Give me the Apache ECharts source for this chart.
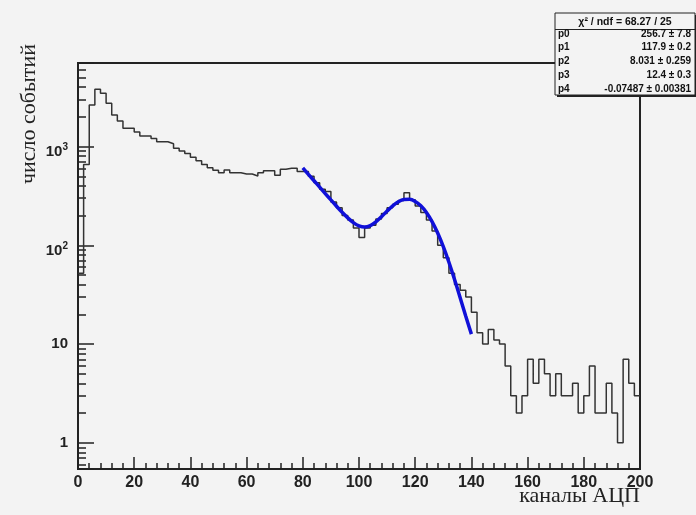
<!DOCTYPE html>
<html><head><meta charset="utf-8">
<script src="https://cdn.jsdelivr.net/npm/echarts@6/dist/echarts.min.js"></script>
<style>html,body{margin:0;padding:0;background:#f3f3f3}#c{width:696px;height:515px}</style>
</head><body><div id="c"></div>
<script>
// ---- data ----
const BIN_START = 0;
const BIN_WIDTH = 2;
const counts = [
  52, 660, 2640, 3800, 3470, 2750, 2090, 1820, 1530, 1530,
  1410, 1280, 1280, 1210, 1120, 1120, 1070, 960, 900, 850,
  780, 720, 660, 610, 575, 544, 580, 544, 544, 527,
  527, 503, 544, 570, 570, 513, 590, 605, 605, 560,
  560, 500, 430, 370, 350, 275, 240, 200, 180, 150,
  120, 150, 160, 185, 210, 240, 260, 285, 340, 290,
  250, 215, 180, 140, 100, 75, 52, 40, 35, 30,
  21, 13, 10, 14, 11, 10, 6, 3, 2, 3,
  7, 4, 7, 5, 3, 5, 3, 3, 4, 2,
  3, 6, 2, 2, 4, 2, 1, 7, 4, 3
];
const fitX = [80,82,84,86,88,90,92,94,96,98,100,102,104,106,108,110,112,114,116,118,120,122,124,126,128,130,132,134,136,138,140];
const fitY = [608.6,523.6,450.8,388.2,334.4,288.2,249.0,216.3,189.8,169.9,157.4,153.3,158.2,172.4,194.8,222.5,251.3,275.9,290.7,292.1,278.5,251.5,215.0,173.8,133.1,96.9,67.4,45.1,29.5,19.1,12.6];
const xMin = 0, xMax = 200, xStep = 20;
const yMin = 0.542, yMax = 7030;
const yLabels = {1: '1', 10: '10', 100: '{n|10}{s|2}', 1000: '{n|10}{s|3}'};
const xTitle = 'каналы АЦП';
const yTitle = 'число событий';
const statsHeader = 'χ² / ndf = 68.27 / 25';
const statsNames = ['p0', 'p1', 'p2', 'p3', 'p4'];
const statsValues = ['256.7 ± 7.8', '117.9 ± 0.2', '8.031 ± 0.259', '12.4 ± 0.3', '-0.07487 ± 0.00381'];

// ---- build ----
const histData = counts.map((v, i) => [BIN_START + i * BIN_WIDTH, v]);
histData.push([BIN_START + counts.length * BIN_WIDTH, counts[counts.length - 1]]);
const fitData = fitX.map((x, i) => [x, fitY[i]]);

const BG = '#f3f3f3';
const FR = '#222';
const labelFont = 'Liberation Sans, Arial, sans-serif';
const serif = 'Liberation Serif, Times New Roman, serif';

const stats = [];
const bx = 555, by = 13, bw = 140, bh = 82;
stats.push({type: 'rect', shape: {x: bx + 2, y: by + 2, width: bw, height: bh}, style: {fill: '#222'}});
stats.push({type: 'rect', shape: {x: bx, y: by, width: bw, height: bh}, style: {fill: BG, stroke: '#222', lineWidth: 1}});
stats.push({type: 'line', shape: {x1: bx, y1: by + 16.5, x2: bx + bw, y2: by + 16.5}, style: {stroke: '#222', lineWidth: 1}});
stats.push({type: 'text', x: bx + bw / 2, y: by + 9, style: {text: statsHeader, align: 'center', verticalAlign: 'middle', font: 'bold 10.5px ' + labelFont, fill: '#111'}});
statsNames.forEach((n, i) => {
  const yy = by + 21 + i * 13.7;
  stats.push({type: 'text', x: bx + 3, y: yy, style: {text: n, align: 'left', verticalAlign: 'middle', font: 'bold 10px ' + labelFont, fill: '#111'}});
  stats.push({type: 'text', x: bx + bw - 4, y: yy, style: {text: statsValues[i], align: 'right', verticalAlign: 'middle', font: 'bold 10px ' + labelFont, fill: '#111'}});
});

const chart = echarts.init(document.getElementById('c'), null, {renderer: 'canvas'});
chart.setOption({
  backgroundColor: BG,
  animation: false,
  grid: {left: 78, right: 56, top: 63, bottom: 46, show: true, borderColor: FR, borderWidth: 2, backgroundColor: BG, containLabel: false, outerBoundsMode: 'none'},
  xAxis: {
    type: 'value', min: xMin, max: xMax, interval: xStep,
    axisLine: {show: true, lineStyle: {color: FR, width: 2}},
    axisTick: {show: true, inside: true, length: 12, lineStyle: {color: FR, width: 1.5}},
    minorTick: {show: true, splitNumber: 5, length: 6, lineStyle: {color: FR, width: 1.5}},
    axisLabel: {show: true, margin: 6, color: '#222', fontFamily: labelFont, fontWeight: 'bold', fontSize: 16},
    splitLine: {show: false}
  },
  yAxis: {
    type: 'log', logBase: 10, min: yMin, max: yMax,
    axisLine: {show: true, lineStyle: {color: FR, width: 2}},
    axisTick: {show: true, inside: true, length: 16, lineStyle: {color: FR, width: 1.5}},
    minorTick: {show: true, splitNumber: 9, length: 8, lineStyle: {color: FR, width: 1.5}},
    axisLabel: {
      show: true, margin: 10, color: '#222', fontFamily: labelFont, fontWeight: 'bold', fontSize: 15,
      formatter: v => { const k = Math.round(v); return (Math.abs(v - k) < 1e-6 && yLabels[k]) ? yLabels[k] : ''; },
      rich: {
        n: {fontSize: 15, fontWeight: 'bold', fontFamily: labelFont, color: '#222', padding: [11, 0, 0, 0], verticalAlign: 'bottom'},
        s: {fontSize: 10, fontWeight: 'bold', fontFamily: labelFont, color: '#222', padding: [9, 0, 0, 0], verticalAlign: 'top'}
      }
    },
    splitLine: {show: false}
  },
  series: [
    {type: 'line', data: histData, step: 'end', symbol: 'none', lineStyle: {color: '#333', width: 1.5}, z: 3},
    {type: 'line', data: fitData, smooth: 0.3, symbol: 'none', lineStyle: {color: '#1010d8', width: 3.5}, z: 4}
  ],
  graphic: [
    {type: 'text', x: 640, y: 496, style: {text: xTitle, align: 'right', verticalAlign: 'middle', font: '22px ' + serif, fill: '#222'}},
    {type: 'text', x: 29, y: 44, rotation: Math.PI / 2, style: {text: yTitle, align: 'right', verticalAlign: 'middle', font: '22px ' + serif, fill: '#222'}},
    {type: 'group', children: stats}
  ]
});
</script>
</body></html>
